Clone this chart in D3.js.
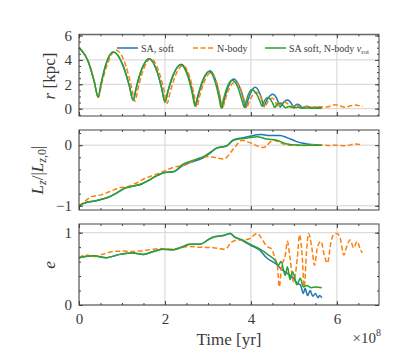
<!DOCTYPE html>
<html>
<head>
<meta charset="utf-8">
<script src="https://cdn.jsdelivr.net/npm/d3@7"></script>
<style>
  body { margin: 0; background: #fff; }
  svg text { font-family: "Liberation Serif", "DejaVu Serif", serif; fill: #3a3a3a; }
</style>
</head>
<body>
<div id="chart"></div>
<script>
const width = 399;
const height = 359;

// time in units of 1e8 yr
const xTicks = [0, 2, 4, 6];
const rTicks = [0, 2, 4, 6];
const lzTicks = [-1, 0];
const eTicks = [0, 1];
const seriesNames = ["SA, soft", "N-body", "SA soft, N-body v_rot"];
const colors = ["#1f77b4", "#ff7f0e", "#2ca02c"];

// panel 1: r [kpc]
const rSA = [
  [0, 5.0], [0.22, 3.81], [0.356, 2.2], [0.445, 0.95], [0.516, 2.09], [0.62, 3.57], [0.8, 4.65],
  [1.03, 3.49], [1.168, 1.92], [1.26, 0.7], [1.334, 1.75], [1.445, 3.1], [1.63, 4.1],
  [1.815, 3.06], [1.926, 1.65], [2.0, 0.55], [2.074, 1.49], [2.185, 2.71], [2.38, 3.65],
  [2.545, 2.65], [2.644, 1.28], [2.71, 0.22], [2.778, 1.12], [2.88, 2.27], [3.05, 3.12],
  [3.19, 2.22], [3.274, 1.0], [3.33, 0.05], [3.384, 0.79], [3.465, 1.74], [3.6, 2.44],
  [3.74, 1.75], [3.824, 0.82], [3.88, 0.1], [3.924, 0.61], [3.99, 1.27], [4.1, 1.76],
  [4.2, 1.3], [4.26, 0.67], [4.3, 0.18], [4.342, 0.49], [4.405, 0.89], [4.51, 1.18],
  [4.595, 0.87], [4.646, 0.45], [4.68, 0.12], [4.714, 0.3], [4.765, 0.54], [4.85, 0.71],
  [4.92, 0.53], [4.962, 0.29], [4.99, 0.1], [5.035, 0.28], [5.08, 0.36], [5.14, 0.28],
  [5.2, 0.08], [5.3, 0.2], [5.4, 0.08], [5.5, 0.12], [5.65, 0.07]
];
const rNbody = [
  [0, 5.0], [0.225, 3.81], [0.36, 2.2], [0.45, 0.95], [0.534, 2.14], [0.66, 3.67], [0.87, 4.8],
  [1.085, 3.57], [1.214, 1.9], [1.3, 0.6], [1.374, 1.68], [1.485, 3.07], [1.67, 4.1],
  [1.86, 3.03], [1.974, 1.58], [2.05, 0.45], [2.124, 1.41], [2.235, 2.64], [2.42, 3.55],
  [2.58, 2.55], [2.676, 1.2], [2.74, 0.15], [2.806, 1.02], [2.905, 2.13], [3.07, 2.95],
  [3.205, 2.1], [3.286, 0.95], [3.34, 0.05], [3.398, 0.71], [3.485, 1.57], [3.63, 2.2],
  [3.765, 1.57], [3.846, 0.71], [3.9, 0.05], [3.946, 0.45], [4.015, 0.97], [4.13, 1.35],
  [4.225, 0.98], [4.282, 0.49], [4.32, 0.1], [4.356, 0.33], [4.41, 0.63], [4.5, 0.85],
  [4.56, 0.63], [4.596, 0.33], [4.62, 0.1], [4.69, 0.44], [4.76, 0.58], [4.84, 0.45],
  [4.92, 0.12], [4.985, 0.25], [5.05, 0.3], [5.15, 0.12], [5.3, 0.18], [5.45, 0.12],
  [5.6, 0.16], [5.75, 0.13], [5.85, 0.22], [5.96, 0.33], [6.08, 0.22], [6.2, 0.12],
  [6.32, 0.24], [6.43, 0.3], [6.52, 0.25], [6.6, 0.2]
];
const rSAvrot = [
  [0, 5.0], [0.22, 3.81], [0.356, 2.2], [0.445, 0.95], [0.516, 2.09], [0.62, 3.57], [0.8, 4.65],
  [1.03, 3.49], [1.168, 1.92], [1.26, 0.7], [1.334, 1.75], [1.445, 3.1], [1.63, 4.1],
  [1.815, 3.06], [1.926, 1.65], [2.0, 0.55], [2.074, 1.49], [2.185, 2.71], [2.37, 3.6],
  [2.535, 2.61], [2.634, 1.26], [2.7, 0.22], [2.766, 1.09], [2.865, 2.21], [3.03, 3.04],
  [3.17, 2.16], [3.254, 0.97], [3.31, 0.05], [3.36, 0.75], [3.435, 1.66], [3.56, 2.33],
  [3.705, 1.68], [3.782, 0.79], [3.85, 0.1], [3.884, 0.55], [3.935, 1.13], [4.02, 1.55],
  [4.14, 1.15], [4.212, 0.6], [4.26, 0.18], [4.286, 0.41], [4.325, 0.7], [4.39, 0.92],
  [4.47, 0.68], [4.518, 0.35], [4.55, 0.1], [4.605, 0.35], [4.66, 0.45], [4.73, 0.34],
  [4.8, 0.08], [4.9, 0.2], [5.0, 0.07], [5.1, 0.12], [5.2, 0.04], [5.35, 0.06],
  [5.5, 0.03], [5.65, 0.03]
];

// panel 2: Lz / |Lz,0|
const lzSA = [
  [0, -1.0], [0.15, -0.95], [0.37, -0.92], [0.68, -0.86], [0.9, -0.78], [1.07, -0.71],
  [1.3, -0.67], [1.46, -0.64], [1.62, -0.58], [1.77, -0.52], [2.0, -0.45], [2.19, -0.44],
  [2.43, -0.33], [2.66, -0.27], [2.89, -0.21], [3.05, -0.13], [3.2, -0.05], [3.44, -0.01],
  [3.6, 0.09], [3.8, 0.12], [4.0, 0.15], [4.14, 0.17], [4.25, 0.175], [4.4, 0.16],
  [4.6, 0.16], [4.68, 0.16], [4.85, 0.12], [4.99, 0.08], [5.1, 0.05], [5.22, 0.03],
  [5.4, 0.01], [5.65, 0.0]
];
const lzNbody = [
  [0, -1.0], [0.15, -0.92], [0.29, -0.85], [0.52, -0.82], [0.7, -0.77], [0.91, -0.71],
  [1.15, -0.68], [1.35, -0.62], [1.53, -0.55], [1.84, -0.47], [2.04, -0.41], [2.23, -0.36],
  [2.47, -0.33], [2.74, -0.23], [2.97, -0.19], [3.13, -0.2], [3.36, -0.23], [3.63, -0.03],
  [3.79, 0.08], [3.94, 0.05], [4.1, 0.0], [4.29, -0.04], [4.52, 0.08], [4.76, 0.02],
  [4.9, 0.0], [5.2, -0.005], [5.5, 0.005], [5.8, -0.005], [5.96, 0.0], [6.2, -0.01],
  [6.43, 0.02], [6.6, 0.0]
];
const lzSAvrot = [
  [0, -1.0], [0.15, -0.95], [0.37, -0.92], [0.68, -0.86], [0.9, -0.78], [1.07, -0.71],
  [1.3, -0.67], [1.46, -0.64], [1.62, -0.58], [1.77, -0.52], [2.0, -0.45], [2.19, -0.44],
  [2.43, -0.31], [2.66, -0.25], [2.89, -0.19], [3.05, -0.12], [3.2, -0.05], [3.44, -0.01],
  [3.59, 0.08], [3.79, 0.11], [3.95, 0.12], [4.14, 0.14], [4.37, 0.1], [4.6, 0.08],
  [4.84, 0.02], [4.95, 0.005], [5.2, 0.0], [5.65, 0.0]
];

// panel 3: e
const eSA = [
  [0, 0.654], [0.33, 0.68], [0.64, 0.655], [0.95, 0.7], [1.26, 0.72], [1.5, 0.7],
  [1.73, 0.74], [1.96, 0.77], [2.19, 0.765], [2.43, 0.81], [2.58, 0.84], [2.82, 0.84],
  [3.0, 0.9], [3.13, 0.94], [3.36, 0.96], [3.52, 0.99], [3.6, 0.95], [3.8, 0.89],
  [3.98, 0.83], [4.2, 0.76], [4.37, 0.65], [4.5, 0.6], [4.58, 0.57], [4.7, 0.5],
  [4.84, 0.44], [4.99, 0.37], [5.08, 0.3], [5.15, 0.28], [5.22, 0.16], [5.26, 0.23],
  [5.32, 0.13], [5.38, 0.2], [5.44, 0.12], [5.5, 0.16], [5.56, 0.1], [5.6, 0.13], [5.65, 0.1]
];
const eNbody = [
  [0, 0.654], [0.17, 0.69], [0.35, 0.67], [0.54, 0.7], [0.8, 0.74], [1.05, 0.745],
  [1.26, 0.74], [1.5, 0.75], [1.7, 0.77], [1.88, 0.78], [2.1, 0.77], [2.35, 0.79],
  [2.58, 0.81], [2.82, 0.8], [3.13, 0.79], [3.4, 0.77], [3.55, 0.87], [3.7, 0.9],
  [3.83, 0.9], [3.98, 0.92], [4.14, 0.99], [4.25, 0.92], [4.37, 0.81], [4.47, 0.78],
  [4.56, 0.65], [4.62, 0.52], [4.66, 0.25], [4.71, 0.51], [4.8, 0.69], [4.85, 0.88],
  [4.91, 0.65], [4.99, 0.32], [5.08, 0.65], [5.13, 0.97], [5.19, 0.7], [5.24, 0.25],
  [5.29, 0.7], [5.34, 0.99], [5.42, 0.78], [5.48, 0.55], [5.55, 0.81], [5.63, 0.88],
  [5.71, 0.68], [5.78, 0.58], [5.86, 0.86], [5.92, 0.97], [6.0, 0.99], [6.08, 0.92],
  [6.16, 0.69], [6.23, 0.81], [6.31, 0.9], [6.39, 0.79], [6.47, 0.88], [6.54, 0.78], [6.59, 0.72]
];
const eSAvrot = [
  [0, 0.654], [0.33, 0.68], [0.64, 0.655], [0.95, 0.7], [1.26, 0.72], [1.5, 0.7],
  [1.73, 0.74], [1.96, 0.77], [2.19, 0.765], [2.43, 0.81], [2.58, 0.84], [2.82, 0.84],
  [3.0, 0.9], [3.13, 0.94], [3.36, 0.96], [3.52, 0.99], [3.6, 0.95], [3.8, 0.9],
  [3.98, 0.84], [4.25, 0.76], [4.41, 0.69], [4.56, 0.62], [4.64, 0.55], [4.7, 0.6],
  [4.8, 0.41], [4.85, 0.53], [4.91, 0.35], [4.97, 0.46], [5.07, 0.28], [5.15, 0.37],
  [5.22, 0.25], [5.3, 0.27], [5.4, 0.24], [5.5, 0.25], [5.65, 0.24]
];

const plotLeft = 79, plotRight = 379;
const xScale = d3.scaleLinear().domain([0, 6.98]).range([plotLeft, plotRight]);
const xMinor = d3.range(0, 7, 0.5);
const fmt = d3.format("d");
const serif = '"Liberation Serif", "DejaVu Serif", serif';

const svg = d3.select("#chart").append("svg")
    .attr("width", width)
    .attr("height", height);

const panels = [
  { top: 34.3, bottom: 116, domain: [-0.6, 6.1], major: rTicks, minor: d3.range(-0.5, 6.01, 0.5),
    series: [rSA, rNbody, rSAvrot] },
  { top: 130, bottom: 210, domain: [-1.07, 0.25], major: lzTicks, minor: d3.range(-1, 0.21, 0.2),
    series: [lzSA, lzNbody, lzSAvrot] },
  { top: 224, bottom: 305, domain: [0, 1.12], major: eTicks, minor: d3.range(0, 1.01, 0.2),
    series: [eSA, eNbody, eSAvrot] }
];

panels.forEach(function(p, idx) {
  const yScale = d3.scaleLinear().domain(p.domain).range([p.bottom, p.top]);
  const g = svg.append("g");

  // grid
  g.selectAll(".hgrid").data(p.major).enter().append("line")
    .attr("x1", plotLeft).attr("x2", plotRight)
    .attr("y1", d => yScale(d)).attr("y2", d => yScale(d))
    .attr("stroke", "#d4d4d4").attr("stroke-width", 1);
  g.selectAll(".vgrid").data(xTicks).enter().append("line")
    .attr("x1", d => xScale(d)).attr("x2", d => xScale(d))
    .attr("y1", p.top).attr("y2", p.bottom)
    .attr("stroke", "#d4d4d4").attr("stroke-width", 1);

  // curves
  const line = d3.line()
    .x(d => xScale(d[0]))
    .y(d => yScale(d[1]))
    .curve(d3.curveMonotoneX);
  p.series.forEach(function(s, i) {
    g.append("path")
      .datum(s)
      .attr("fill", "none")
      .attr("stroke", colors[i])
      .attr("stroke-width", 1.5)
      .attr("stroke-dasharray", i === 1 ? "5,2.5" : null)
      .attr("d", line);
  });

  // axes with inward ticks on all four sides
  const left = d3.axisLeft(yScale).tickValues(p.major).tickSize(-4).tickPadding(7).tickFormat(fmt);
  const right = d3.axisRight(yScale).tickValues(p.major).tickSize(-4).tickFormat("");
  const top = d3.axisTop(xScale).tickValues(xTicks).tickSize(-4).tickFormat("");
  const bottom = d3.axisBottom(xScale).tickValues(xTicks).tickSize(-4).tickPadding(8)
      .tickFormat(idx < 2 ? "" : fmt);

  const axes = [
    g.append("g").attr("transform", `translate(${plotLeft},0)`).call(left),
    g.append("g").attr("transform", `translate(${plotRight},0)`).call(right),
    g.append("g").attr("transform", `translate(0,${p.top})`).call(top),
    g.append("g").attr("transform", `translate(0,${p.bottom})`).call(bottom)
  ];
  // minor ticks
  g.append("g").attr("transform", `translate(${plotLeft},0)`)
    .call(d3.axisLeft(yScale).tickValues(p.minor).tickSize(-2).tickFormat(""));
  g.append("g").attr("transform", `translate(${plotRight},0)`)
    .call(d3.axisRight(yScale).tickValues(p.minor).tickSize(-2).tickFormat(""));
  g.append("g").attr("transform", `translate(0,${p.top})`)
    .call(d3.axisTop(xScale).tickValues(xMinor).tickSize(-2).tickFormat(""));
  g.append("g").attr("transform", `translate(0,${p.bottom})`)
    .call(d3.axisBottom(xScale).tickValues(xMinor).tickSize(-2).tickFormat(""));

  g.selectAll(".domain").remove();
  g.selectAll(".tick line").attr("stroke", "#444");
  axes.forEach(a => a.attr("font-family", serif).attr("font-size", 15)
    .selectAll("text").attr("fill", "#3a3a3a"));

  // frame
  g.append("rect")
    .attr("x", plotLeft).attr("y", p.top)
    .attr("width", plotRight - plotLeft).attr("height", p.bottom - p.top)
    .attr("fill", "none").attr("stroke", "#444").attr("stroke-width", 1);
});

// y labels
svg.append("text")
  .attr("transform", "translate(55,76) rotate(-90)")
  .attr("text-anchor", "middle")
  .style("font-size", "17px")
  .html('<tspan font-style="italic">r</tspan> [kpc]');

svg.append("text")
  .attr("transform", "translate(43,170) rotate(-90)")
  .attr("text-anchor", "middle")
  .style("font-size", "17px")
  .html('<tspan font-style="italic">L</tspan><tspan font-style="italic" font-size="12px" dy="3">z</tspan>' +
        '<tspan dy="-3">/|</tspan><tspan font-style="italic">L</tspan>' +
        '<tspan font-style="italic" font-size="12px" dy="3">z,</tspan><tspan font-size="12px">0</tspan>' +
        '<tspan dy="-3">|</tspan>');

svg.append("text")
  .attr("transform", "translate(55,265) rotate(-90)")
  .attr("text-anchor", "middle")
  .style("font-size", "17px")
  .style("font-style", "italic")
  .text("e");

// x label and offset
svg.append("text")
  .attr("x", (plotLeft + plotRight) / 2).attr("y", 345)
  .attr("text-anchor", "middle")
  .style("font-size", "17px")
  .text("Time [yr]");

svg.append("text")
  .attr("x", 381).attr("y", 343)
  .attr("text-anchor", "end")
  .style("font-size", "15px")
  .html('×10<tspan font-size="10px" dy="-7">8</tspan>');

// legend
const legendX = [117, 193, 265];
const legend = svg.append("g");
seriesNames.forEach(function(name, i) {
  legend.append("line")
    .attr("x1", legendX[i]).attr("x2", legendX[i] + 21)
    .attr("y1", 48).attr("y2", 48)
    .attr("stroke", colors[i]).attr("stroke-width", 1.5)
    .attr("stroke-dasharray", i === 1 ? "5,2.5" : null);
  const t = legend.append("text")
    .attr("x", legendX[i] + 24).attr("y", 51.5)
    .style("font-size", "10px");
  if (i === 2) {
    t.html('SA soft, N-body <tspan font-style="italic">v</tspan><tspan font-size="7px" dy="2">rot</tspan>');
  } else {
    t.text(name);
  }
});
</script>
</body>
</html>
